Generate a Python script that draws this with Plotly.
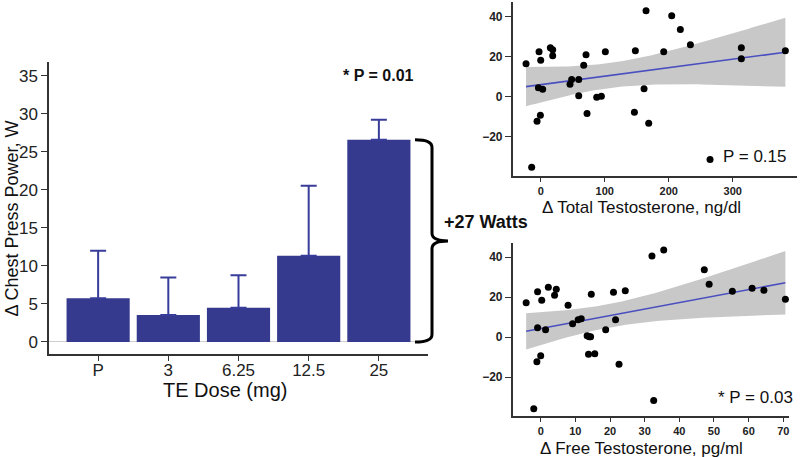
import numpy as np
import plotly.graph_objects as go

# ---------------- data ----------------
doses = ["P", "3", "6.25", "12.5", "25"]
power_mean = [5.75, 3.55, 4.5, 11.36, 26.6]
power_err = [6.25, 4.95, 4.27, 9.21, 2.65]

total_t = [-22.9, -2.6, 0.0, -3.6, 3.1, -5.7, -0.5, -14.1, 15.1, 18.75, 18.75,
           45.8, 48.4, 59.4, 59.4, 67.2, 70.8, 72.4, 87.5, 94.8, 101.0,
           146.4, 147.9, 161.5, 164.6, 168.75, 192.2, 204.7, 218.2, 233.9,
           264.6, 313.5, 313.5, 382.3]
total_dp = [16.5, 22.5, 18.3, 4.5, 3.8, -12.2, -9.3, -35.2, 24.5, 23.5, 20.5,
            6.3, 8.6, 8.6, 0.5, 15.7, 21.0, -8.4, -0.2, 0.3, 22.5,
            -7.8, 23.0, 4.0, 43.0, -13.2, 22.5, 40.5, 33.6, 26.0,
            -31.4, 24.5, 19.0, 23.0]

free_t = [-4.2, -0.9, -0.9, -1.1, -2.0, 0.3, 0.0, 1.4, 2.2, 4.0, 4.5, 7.9,
          9.2, 10.8, 11.7, 13.4, 14.0, 14.4, 13.8, 15.6, 14.6, 18.75, 21.0,
          21.6, 22.6, 24.4, 32.1, 32.6, 35.5, 47.2, 48.6, 55.3, 61.0, 64.4, 70.6]
free_dp = [17.2, 22.8, 4.7, -12.2, -35.8, 18.5, -9.2, 3.7, 25.0, 21.0, 24.0, 16.0,
           6.7, 8.7, 9.2, 0.7, 0.3, 0.3, -8.5, -8.2, 21.5, 3.7, 22.5,
           8.7, -13.5, 23.3, 40.7, -31.7, 43.7, 33.8, 26.5, 23.0, 24.5, 23.5, 19.0]

p_bar = "* P = 0.01"
p_total = "P = 0.15"
p_free = "* P = 0.03"

# ---------------- style ----------------
FONT = "Liberation Sans, Arial, sans-serif"
BAR = "#353a8e"
ERR = "#383d9a"
LINE = "#4a4fc0"
BAND = "#c8c8c8"
AX = "#333333"
W, H = 800, 457


def fit_band(x, y, t=2.037):
    x = np.asarray(x, float)
    y = np.asarray(y, float)
    n = len(x)
    b, a = np.polyfit(x, y, 1)
    resid = y - (a + b * x)
    s = np.sqrt(np.sum(resid ** 2) / (n - 2))
    xm = x.mean()
    sxx = np.sum((x - xm) ** 2)
    xs = np.linspace(x.min(), x.max(), 100)
    ys = a + b * xs
    se = s * np.sqrt(1.0 / n + (xs - xm) ** 2 / sxx)
    return xs, ys, ys - t * se, ys + t * se


fig = go.Figure()

# bar chart
fig.add_trace(go.Bar(
    x=doses, y=power_mean, marker=dict(color=BAR, line=dict(width=0)), width=0.9,
    error_y=dict(type="data", symmetric=False, array=power_err,
                 arrayminus=[0] * len(power_err), color=ERR, thickness=2, width=8),
    xaxis="x", yaxis="y"))

# scatter panels
for xs_, ys_, xa, ya in [(total_t, total_dp, "x2", "y2"), (free_t, free_dp, "x3", "y3")]:
    gx, gy, lo, hi = fit_band(xs_, ys_)
    fig.add_trace(go.Scatter(x=np.concatenate([gx, gx[::-1]]),
                             y=np.concatenate([hi, lo[::-1]]),
                             fill="toself", fillcolor=BAND, line=dict(width=0),
                             mode="lines", hoverinfo="skip", xaxis=xa, yaxis=ya))
    fig.add_trace(go.Scatter(x=gx, y=gy, mode="lines", line=dict(color=LINE, width=1.6),
                             xaxis=xa, yaxis=ya))
    fig.add_trace(go.Scatter(x=xs_, y=ys_, mode="markers",
                             marker=dict(color="black", size=7), xaxis=xa, yaxis=ya))

common = dict(showline=True, linecolor=AX, linewidth=1.5, ticks="outside",
              tickcolor=AX, showgrid=False)

fig.update_layout(
    width=W, height=H, margin=dict(l=0, r=0, t=0, b=0),
    paper_bgcolor="white", plot_bgcolor="white", showlegend=False,
    font=dict(family=FONT, color="#222"),
    xaxis=dict(domain=[49 / W, 428 / W], range=[-0.7, 4.7], ticklen=5,
               ticklabelstandoff=-5,
               tickfont=dict(size=17, family=FONT, color="#222"), zeroline=False, **common),
    yaxis=dict(domain=[1 - 354 / H, 1 - 62 / H], range=[-1.58, 36.84],
               tickvals=[0, 5, 10, 15, 20, 25, 30, 35], ticklen=6,
               tickfont=dict(size=17, family=FONT, color="#222"),
               zeroline=True, zerolinecolor="#cfcfcf", zerolinewidth=1, **common),
    xaxis2=dict(domain=[512.7 / W, 796.7 / W], range=[-43.75, 400],
                tickvals=[0, 100, 200, 300], ticklen=4, anchor="y2",
                tickfont=dict(size=11, family=FONT, color="#222", weight="bold"),
                zeroline=False, **common),
    yaxis2=dict(domain=[1 - 176 / H, 1 - 1.7 / H], range=[-39.6, 47.5],
                tickvals=[-20, 0, 20, 40], ticklen=6, anchor="x2",
                tickfont=dict(size=12, family=FONT, color="#222", weight="bold"),
                zeroline=False, **common),
    xaxis3=dict(domain=[512.7 / W, 789.2 / W], range=[-8.08, 71.7],
                tickvals=[0, 10, 20, 30, 40, 50, 60, 70], ticklen=4, anchor="y3",
                tickfont=dict(size=11, family=FONT, color="#222", weight="bold"),
                zeroline=False, **common),
    yaxis3=dict(domain=[1 - 416 / H, 1 - 243.3 / H], range=[-39.4, 47],
                tickvals=[-20, 0, 20, 40], ticklen=6, anchor="x3",
                tickfont=dict(size=12, family=FONT, color="#222", weight="bold"),
                zeroline=False, **common),
)


def ann(text, px, py, size, bold=False, angle=0):
    fig.add_annotation(text=f"<b>{text}</b>" if bold else text, x=px / W, y=1 - py / H,
                       xref="paper", yref="paper", showarrow=False,
                       xanchor="center", yanchor="middle", textangle=angle,
                       font=dict(size=size, family=FONT, color="#111"))


ann("TE Dose (mg)", 225, 390, 20)
ann("Δ Chest Press Power, W", 11, 218.5, 18, angle=-90)
ann(p_bar, 378, 76, 16, bold=True)
ann("Δ Total Testosterone, ng/dl", 641.5, 207, 17)
ann(p_total, 754.5, 157, 17)
ann("Δ Free Testosterone, pg/ml", 641, 448, 17)
ann(p_free, 755, 397, 17)

# bracket spanning the 25 mg bar
top = power_mean[-1]
mid = top / 2
x0, xv, xt = 415 / W, 432 / W, 448 / W
r = 1.0
path = (f"M {x0},{top} Q {xv},{top} {xv},{top - r} L {xv},{mid + r} "
        f"Q {xv},{mid} {xt},{mid} Q {xv},{mid} {xv},{mid - r} "
        f"L {xv},{r} Q {xv},0 {x0},0")
fig.add_shape(type="path", path=path, xref="paper", yref="y",
              line=dict(color="black", width=3))
ann(f"+{round(top)} Watts", 486, 222, 18, bold=True)

fig.write_html("out.html", config={"displayModeBar": False},
               post_script="document.body.style.margin='0px';document.body.style.overflow='hidden';")
